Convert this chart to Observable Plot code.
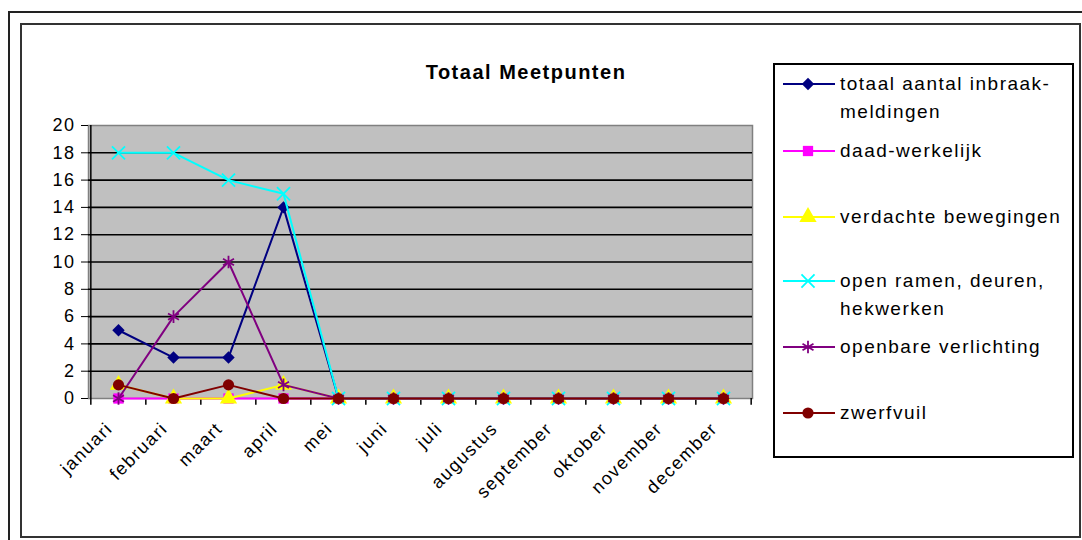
<!DOCTYPE html>
<html><head><meta charset="utf-8">
<script src="https://cdn.jsdelivr.net/npm/d3@7"></script>
<script src="https://cdn.jsdelivr.net/npm/@observablehq/plot@0.6"></script>
<style>
html,body{margin:0;padding:0;background:#fff;}
#wrap{position:relative;width:1082px;height:540px;overflow:hidden;font-family:"Liberation Sans",Arial,sans-serif;color:#000;}
#wrap svg.plot{position:absolute;left:0;top:0;}
.frame-outer{position:absolute;left:8px;top:11px;width:1200px;height:600px;border-left:2px solid #222;border-top:2px solid #222;}
.frame-inner{position:absolute;left:20px;top:23px;width:1061px;height:515px;box-sizing:border-box;border:2px solid #333;}
.title{position:absolute;left:526px;top:62px;transform:translateX(-50%);font-weight:bold;font-size:20px;line-height:20px;letter-spacing:1.5px;white-space:nowrap;}
.legend{position:absolute;left:773px;top:63px;width:301px;height:395px;box-sizing:border-box;border:2px solid #000;background:#fff;}
.ltext{position:absolute;left:840px;font-size:19px;line-height:28px;letter-spacing:1.5px;white-space:pre;}
.lsym{position:absolute;left:780px;}
</style></head>
<body><div id="wrap"><div class="frame-outer"></div><div class="frame-inner"></div></div>
<script>
// ---- data ----
const months = ["januari","februari","maart","april","mei","juni","juli","augustus","september","oktober","november","december"];
const seriesNames = ["totaal aantal inbraak-meldingen","daad-werkelijk","verdachte bewegingen","open ramen, deuren, hekwerken","openbare verlichting","zwerfvuil"];
const legendLabels = [["totaal aantal inbraak-","meldingen"],["daad-werkelijk"],["verdachte bewegingen"],["open ramen, deuren,","hekwerken"],["openbare verlichting"],["zwerfvuil"]];
const totaal        = [5,3,3,14,0,0,0,0,0,0,0,0];
const daadWerkelijk = [0,0,0,0,0,0,0,0,0,0,0,0];
const verdachte     = [1,0,0,1,0,0,0,0,0,0,0,0];
const openRamen     = [18,18,16,15,0,0,0,0,0,0,0,0];
const openbare      = [0,6,10,1,0,0,0,0,0,0,0,0];
const zwerfvuil     = [1,0,1,0,0,0,0,0,0,0,0,0];
const yTicks = [0,2,4,6,8,10,12,14,16,18,20];
const chartTitle = "Totaal Meetpunten";

// ---- styles ----
const styles = [
  {color:"#000080", symbol:"diamond2", r:5.6, filled:true},
  {color:"#ff00ff", symbol:"square",   r:5.8, filled:true},
  {color:"#ffff00", symbol:"triangle", r:6.4, filled:true},
  {color:"#00ffff", symbol:"times",    r:6.0, filled:false},
  {color:"#800080", symbol:"asterisk", r:6.0, filled:false},
  {color:"#800000", symbol:"circle",   r:5.6, filled:true}
];
const legendY = [84, 151, 217, 281, 347, 413];

const seriesValues = [totaal, daadWerkelijk, verdachte, openRamen, openbare, zwerfvuil];
const tables = seriesValues.map((vals, i) => months.map((m, j) => ({month: m, value: vals[j], series: seriesNames[i]})));

const W = 1082, H = 540, mL = 88, mR = 330, mT = 125, mB = 142;
const step = (W - mL - mR) / months.length;

const seriesMarks = tables.flatMap((data, i) => {
  const s = styles[i];
  return [
    Plot.line(data, {x: "month", y: "value", stroke: s.color, strokeWidth: 2}),
    Plot.dot(data, {x: "month", y: "value", symbol: s.symbol, r: s.r,
      fill: s.filled ? s.color : "none", stroke: s.filled ? "none" : s.color, strokeWidth: s.filled ? 0 : 1.8})
  ];
});

const chart = Plot.plot({
  width: W, height: H,
  marginLeft: mL, marginRight: mR, marginTop: mT, marginBottom: mB,
  style: {background: "transparent", fontFamily: "'Liberation Sans', Arial, sans-serif", color: "#000", overflow: "visible"},
  x: {type: "point", domain: months, padding: 0.5, label: null},
  y: {domain: [0, 20], label: null},
  marks: [
    Plot.frame({fill: "#c0c0c0", stroke: "#808080", strokeWidth: 1.5}),
    Plot.ruleY(yTicks.filter(v => v > 0 && v < 20), {y: d => d, stroke: "#000", strokeWidth: 1.6}),
    Plot.ruleX([months[0]], {x: d => d, dx: -step / 2, y1: 0, y2: 20, stroke: "#000", strokeWidth: 1.5}),
    Plot.ruleX(months, {x: d => d, dx: -step / 2, y1: 0, y2: -0.5, stroke: "#000", strokeWidth: 1.5}),
    Plot.ruleX([months[months.length - 1]], {x: d => d, dx: step / 2, y1: 0, y2: -0.5, stroke: "#000", strokeWidth: 1.5}),
    Plot.axisY({ticks: yTicks, tickSize: 7, tickPadding: 6, fontSize: 18}),
    Plot.axisX({tickRotate: -45, tickSize: 0, tickPadding: 27, dx: -9, fontSize: 18}),
    ...seriesMarks
  ]
});
chart.classList.add("plot");
const wrap = document.getElementById("wrap");
wrap.appendChild(chart);
d3.select(chart).selectAll('g[aria-label="y-axis tick label"] text').style("letter-spacing", "1.5px");
d3.select(chart).selectAll('g[aria-label="x-axis tick label"] text').style("letter-spacing", "1.5px");

// title
const t = document.createElement("div");
t.className = "title"; t.textContent = chartTitle; wrap.appendChild(t);

// legend
const lg = document.createElement("div"); lg.className = "legend"; wrap.appendChild(lg);
const symMap = {diamond2: d3.symbolDiamond2 || d3.symbolDiamond, square: d3.symbolSquare, triangle: d3.symbolTriangle,
  times: d3.symbolTimes || d3.symbolCross, asterisk: d3.symbolAsterisk || d3.symbolStar, circle: d3.symbolCircle};
legendLabels.forEach((lines, i) => {
  const s = styles[i], cy = legendY[i];
  const svg = d3.select(wrap).append("svg").attr("class", "lsym").attr("width", 58).attr("height", 20)
    .style("top", (cy - 10) + "px");
  svg.append("line").attr("x1", 3).attr("x2", 55).attr("y1", 10).attr("y2", 10).attr("stroke", s.color).attr("stroke-width", 2);
  svg.append("path").attr("transform", "translate(28,10)")
    .attr("d", d3.symbol(symMap[s.symbol], s.r * s.r * Math.PI)())
    .attr("fill", s.filled ? s.color : "none").attr("stroke", s.filled ? "none" : s.color).attr("stroke-width", 1.8);
  const tx = document.createElement("div");
  tx.className = "ltext"; tx.style.top = (cy - 14) + "px"; tx.textContent = lines.join("\n");
  wrap.appendChild(tx);
});
</script>
</body></html>
